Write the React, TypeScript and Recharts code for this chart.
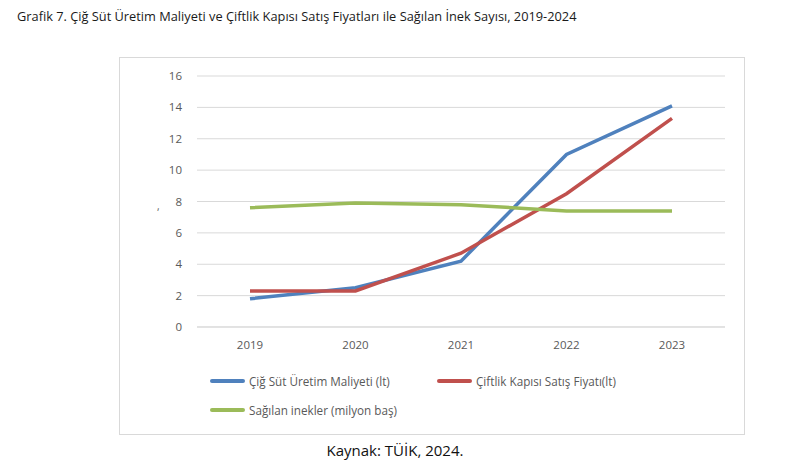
import { LineChart, Line, XAxis, YAxis, CartesianGrid } from 'recharts'

const years = ['2019', '2020', '2021', '2022', '2023']
const uretimMaliyeti = [1.8, 2.5, 4.2, 11.0, 14.1]
const satisFiyati = [2.3, 2.3, 4.7, 8.5, 13.3]
const saglanInekler = [7.6, 7.9, 7.8, 7.4, 7.4]
const yTicks = [0, 2, 4, 6, 8, 10, 12, 14, 16]

const seriesInfo = [
  { key: 'maliyet', name: 'Çiğ Süt Üretim Maliyeti (lt)', color: '#4f81bd' },
  { key: 'fiyat', name: 'Çiftlik Kapısı Satış Fiyatı(lt)', color: '#c0504d' },
  { key: 'inek', name: 'Sağılan inekler (milyon baş)', color: '#9bbb59' },
]

const data = years.map((y, i) => ({
  year: y,
  maliyet: uretimMaliyeti[i],
  fiyat: satisFiyati[i],
  inek: saglanInekler[i],
}))

const font = '"Open Sans", "Noto Sans", sans-serif'
const gray = '#595959'

function LegendItem({ left, top, color, text }: { left: number; top: number; color: string; text: string }) {
  return (
    <div style={{ position: 'absolute', left, top, display: 'flex', alignItems: 'center', fontSize: 11.7, color: gray }}>
      <div style={{ width: 35, height: 3.5, background: color, borderRadius: 2, marginRight: 4 }} />
      <span>{text}</span>
    </div>
  )
}

export default function App() {
  return (
    <div style={{ position: 'absolute', left: 0, top: 0, width: 804, height: 474, background: '#fff', fontFamily: font }}>
      <div style={{ position: 'absolute', left: 17, top: 7, fontSize: 12.8, color: '#1a1a1a', whiteSpace: 'nowrap' }}>
        Grafik 7. Çiğ Süt Üretim Maliyeti ve Çiftlik Kapısı Satış Fiyatları ile Sağılan İnek Sayısı, 2019-2024
      </div>

      <div style={{ position: 'absolute', left: 119, top: 57, width: 626, height: 378, border: '1px solid #d9d9d9', boxSizing: 'border-box' }}>
        <LineChart width={624} height={376} data={data} margin={{ top: 18, right: 19, left: 0, bottom: 77 }}>
          <CartesianGrid vertical={false} stroke="#d9d9d9" />
          <XAxis
            dataKey="year"
            axisLine={{ stroke: '#d9d9d9' }}
            tickLine={false}
            tick={{ fill: gray, fontSize: 11.5, fontFamily: font }}
            tickMargin={8}
            height={30}
            padding={{ left: 53, right: 53 }}
          />
          <YAxis
            domain={[0, 16]}
            ticks={yTicks}
            axisLine={false}
            tickLine={false}
            tick={{ fill: gray, fontSize: 11.5, fontFamily: font }}
            tickMargin={9}
            width={77}
          />
          {seriesInfo.map((s) => (
            <Line
              key={s.key}
              type="linear"
              dataKey={s.key}
              name={s.name}
              stroke={s.color}
              strokeWidth={3.5}
              dot={false}
              isAnimationActive={false}
            />
          ))}
        </LineChart>
        <div style={{ position: 'absolute', left: 37, top: 141, fontSize: 10, color: gray }}>,</div>
        <LegendItem left={90} top={315} color={seriesInfo[0].color} text={seriesInfo[0].name} />
        <LegendItem left={317} top={315} color={seriesInfo[1].color} text={seriesInfo[1].name} />
        <LegendItem left={90} top={344} color={seriesInfo[2].color} text={seriesInfo[2].name} />
      </div>

      <div style={{ position: 'absolute', left: 0, width: 790, top: 440, textAlign: 'center', fontSize: 15, color: '#111' }}>
        Kaynak: TÜİK, 2024.
      </div>
    </div>
  )
}
